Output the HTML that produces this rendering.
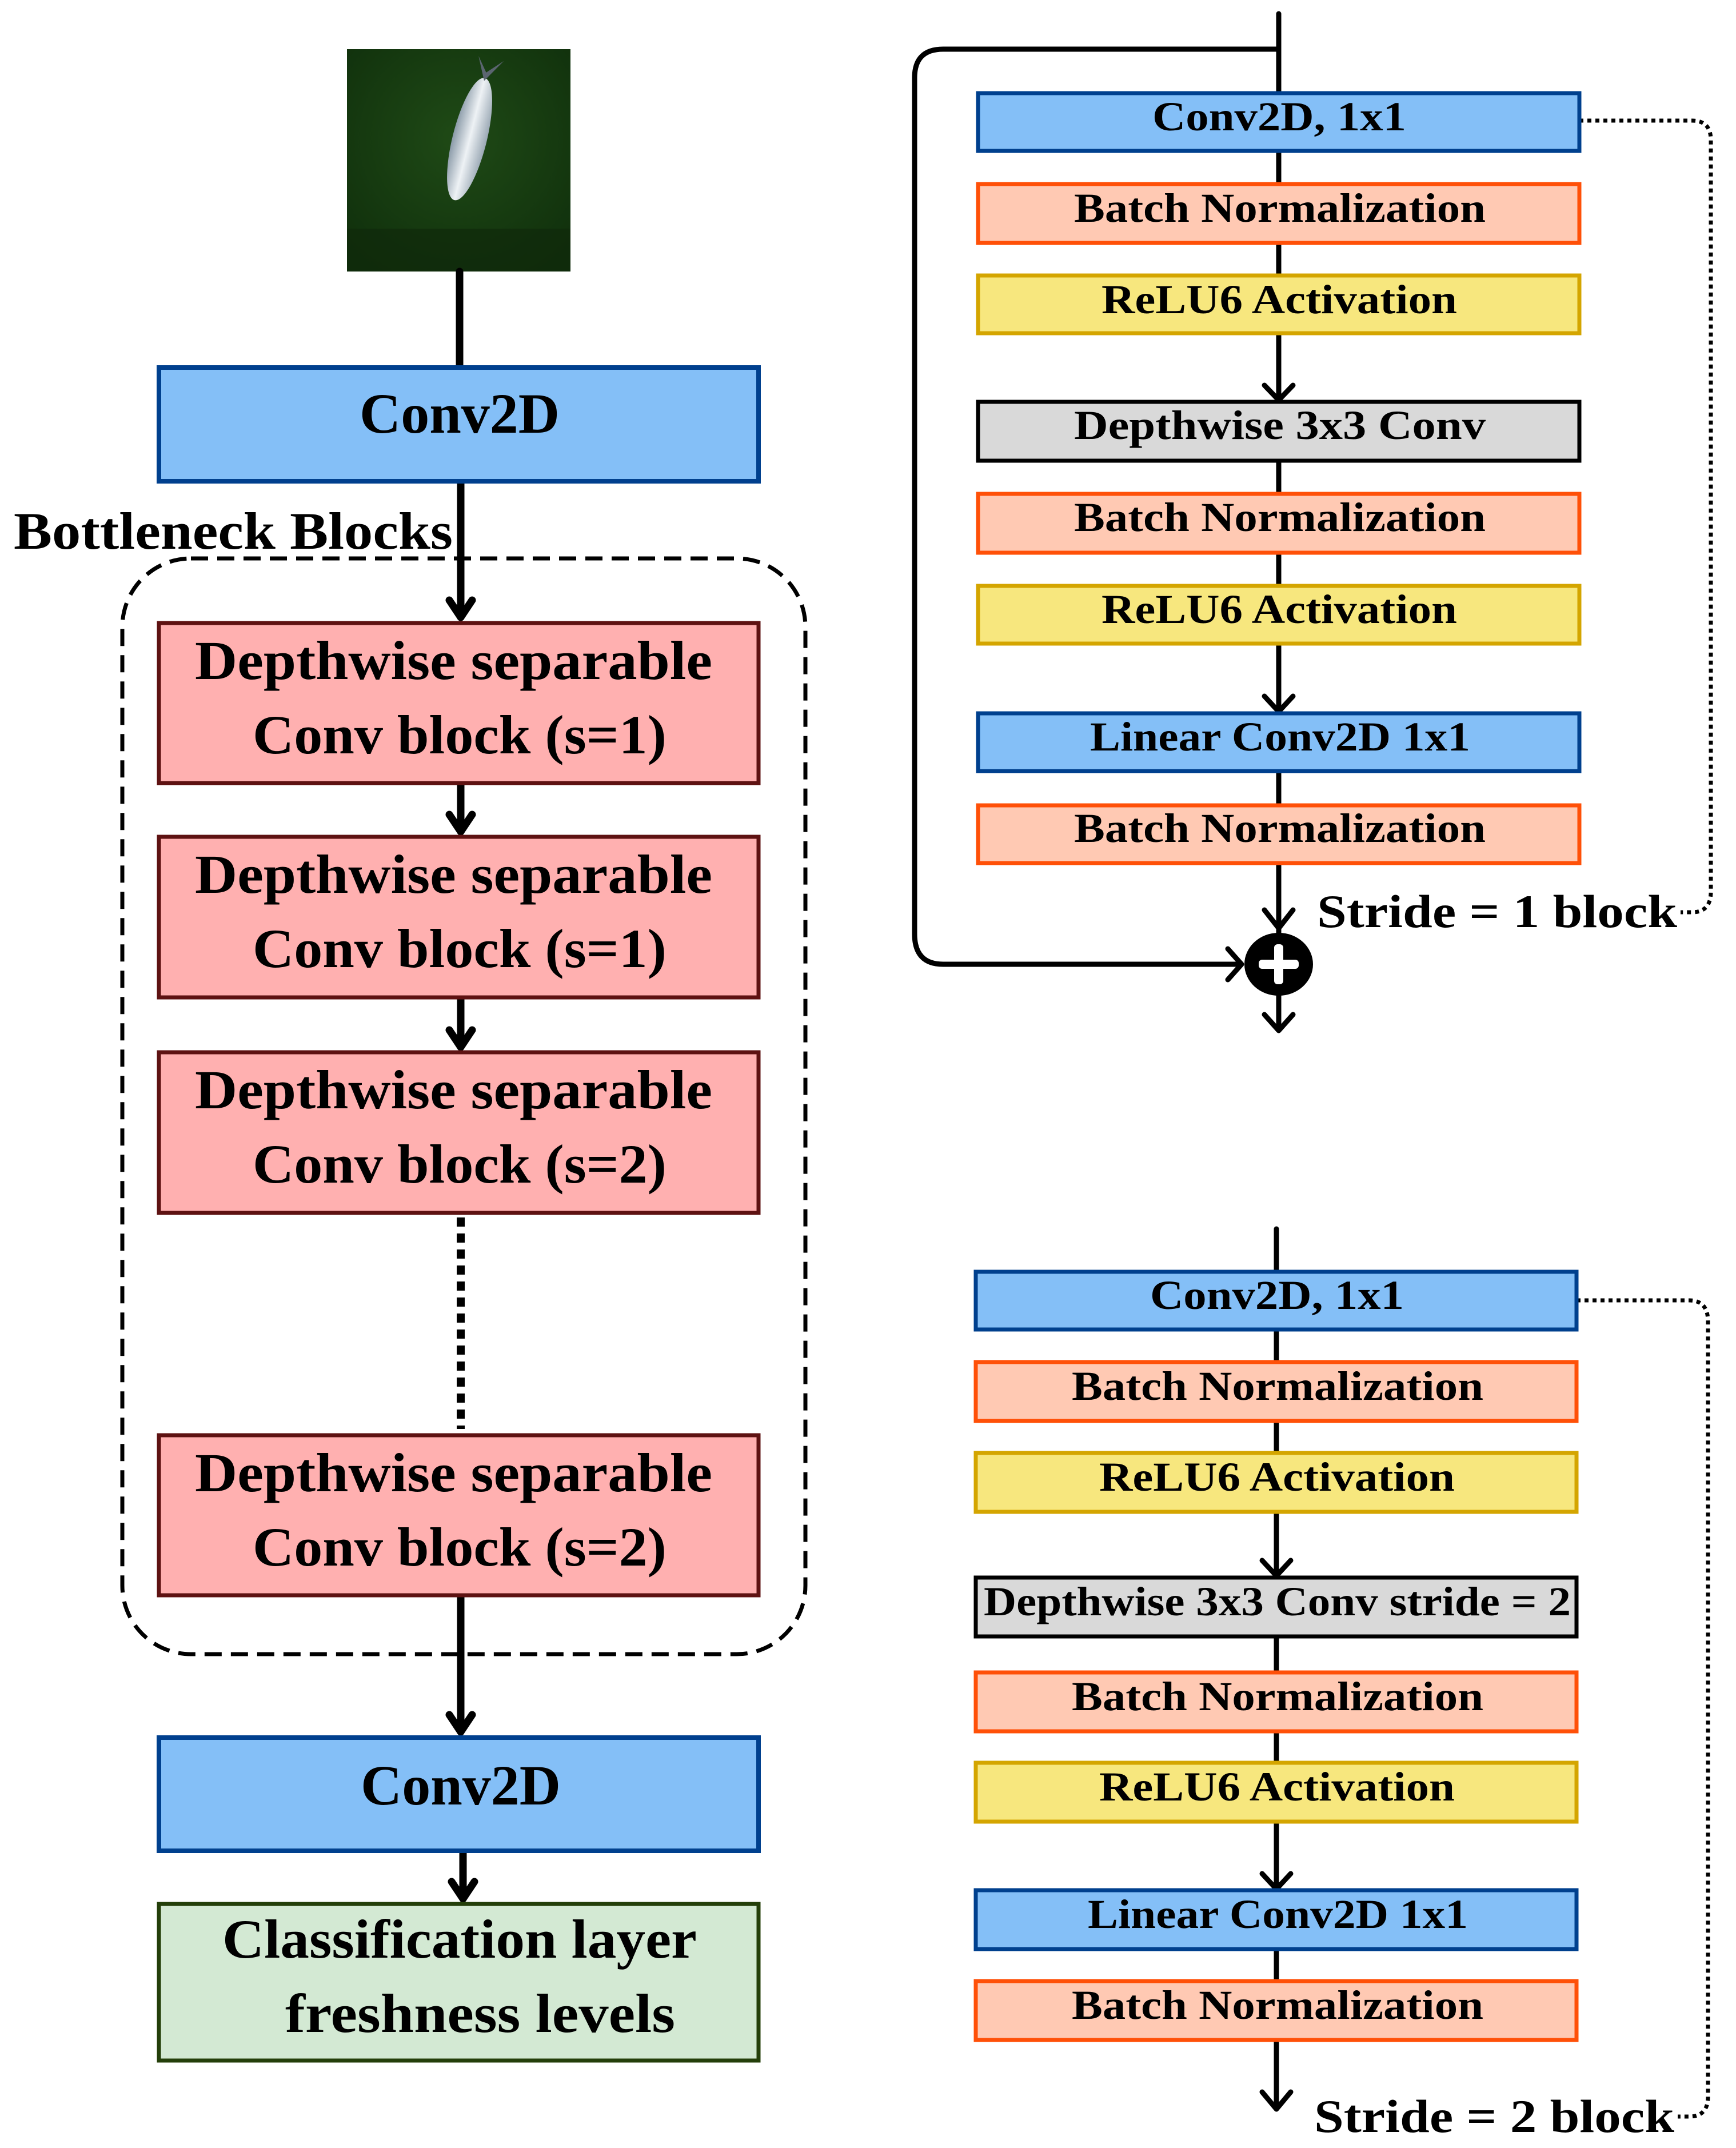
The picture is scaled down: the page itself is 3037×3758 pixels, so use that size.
<!DOCTYPE html>
<html><head><meta charset="utf-8"><style>
html,body{margin:0;padding:0;background:#fff;}
svg{display:block;}
text{font-family:"Liberation Serif",serif;font-weight:bold;fill:#000;}
</style></head><body>
<svg width="3037" height="3758" viewBox="0 0 3037 3758" xmlns="http://www.w3.org/2000/svg">
<defs>
<radialGradient id="g1" cx="50%" cy="40%" r="70%"><stop offset="0" stop-color="#1f4a16"/><stop offset="1" stop-color="#10300c"/></radialGradient>
<linearGradient id="fishg" x1="0" y1="0" x2="1" y2="0"><stop offset="0" stop-color="#8a9aa8"/><stop offset="0.5" stop-color="#eef2f5"/><stop offset="1" stop-color="#9aa8b4"/></linearGradient>
</defs>
<!-- fish image -->
<rect x="607" y="86" width="391" height="389" fill="url(#g1)"/>
<rect x="607" y="400" width="391" height="75" fill="#0f2a0b" opacity="0.7"/>
<g transform="rotate(14 830 230)">
<ellipse cx="825" cy="245" rx="30" ry="110" fill="url(#fishg)"/>
<polygon points="825,140 805,100 825,125 850,98" fill="#5b6570"/>
</g>
<!-- left connectors -->
<g stroke="#000" stroke-width="13" fill="none" stroke-linecap="round" stroke-linejoin="round">
<line x1="804" y1="475" x2="804" y2="643"/>
<line x1="806" y1="842" x2="806" y2="1080"/>
<polyline points="786,1050 806,1080 826,1050"/>
<line x1="806" y1="1370" x2="806" y2="1455"/>
<polyline points="786,1425 806,1455 826,1425"/>
<line x1="806" y1="1745" x2="806" y2="1832"/>
<polyline points="786,1802 806,1832 826,1802"/>
<line x1="806" y1="2791" x2="806" y2="3030"/>
<polyline points="786,3000 806,3030 826,3000"/>
<line x1="810" y1="3238" x2="810" y2="3322"/>
<polyline points="790,3292 810,3322 830,3292"/>
</g>
<line x1="806" y1="2130" x2="806" y2="2500" stroke="#000" stroke-width="14" stroke-dasharray="16,12"/>
<!-- dashed container -->
<rect x="214" y="977" width="1195" height="1917" rx="120" ry="120" fill="none" stroke="#000" stroke-width="7" stroke-dasharray="30,16"/>
<text x="24" y="960" font-size="92" textLength="768" lengthAdjust="spacingAndGlyphs">Bottleneck Blocks</text>
<!-- left boxes -->
<rect x="278" y="643" width="1049" height="199" fill="#84BFF7" stroke="#00408E" stroke-width="8"/>
<text x="804" y="757" font-size="100" text-anchor="middle" textLength="350" lengthAdjust="spacingAndGlyphs">Conv2D</text>
<g fill="#FFB0B0" stroke="#5E1212" stroke-width="7">
<rect x="278" y="1090" width="1049" height="280"/>
<rect x="278" y="1464" width="1049" height="281"/>
<rect x="278" y="1841" width="1049" height="281"/>
<rect x="278" y="2511" width="1049" height="280"/>
</g>
<g font-size="96">
<text x="341" y="1188" textLength="905" lengthAdjust="spacingAndGlyphs">Depthwise separable</text>
<text x="442" y="1318" textLength="724" lengthAdjust="spacingAndGlyphs">Conv block (s=1)</text>
<text x="341" y="1562" textLength="905" lengthAdjust="spacingAndGlyphs">Depthwise separable</text>
<text x="442" y="1692" textLength="724" lengthAdjust="spacingAndGlyphs">Conv block (s=1)</text>
<text x="341" y="1939" textLength="905" lengthAdjust="spacingAndGlyphs">Depthwise separable</text>
<text x="442" y="2069" textLength="724" lengthAdjust="spacingAndGlyphs">Conv block (s=2)</text>
<text x="341" y="2609" textLength="905" lengthAdjust="spacingAndGlyphs">Depthwise separable</text>
<text x="442" y="2739" textLength="724" lengthAdjust="spacingAndGlyphs">Conv block (s=2)</text>
</g>
<rect x="278" y="3040" width="1049" height="198" fill="#84BFF7" stroke="#00408E" stroke-width="8"/>
<text x="806" y="3157" font-size="100" text-anchor="middle" textLength="350" lengthAdjust="spacingAndGlyphs">Conv2D</text>
<rect x="278" y="3331" width="1049" height="274" fill="#D3E9D3" stroke="#243F0A" stroke-width="7"/>
<text x="389" y="3425" font-size="96" textLength="830" lengthAdjust="spacingAndGlyphs">Classification layer</text>
<text x="499" y="3555" font-size="96" textLength="682" lengthAdjust="spacingAndGlyphs">freshness levels</text>

<!-- RIGHT TOP -->
<g stroke="#000" stroke-width="9" fill="none" stroke-linecap="round" stroke-linejoin="round">
<line x1="2237" y1="24" x2="2237" y2="1640"/>
<path d="M2237 86 L1650 86 Q1600 86 1600 136 L1600 1634 Q1600 1687 1650 1687 L2170 1687"/>
<polyline points="2148,1660 2172,1687 2148,1714"/>
<polyline points="2212,1040 2237,1068 2262,1040"/>
<polyline points="2212,674 2237,700 2262,674"/>
<polyline points="2212,1218 2237,1245 2262,1218"/>
<polyline points="2212,1592 2237,1624 2262,1592"/>
<line x1="2237" y1="1740" x2="2237" y2="1800"/>
<polyline points="2212,1775 2237,1803 2262,1775"/>
</g>
<ellipse cx="2237" cy="1687" rx="60" ry="55" fill="#000"/>
<rect x="2229" y="1652" width="16" height="70" rx="6" fill="#fff"/>
<rect x="2202" y="1679" width="70" height="16" rx="6" fill="#fff"/>
<path d="M2763 211 L2960 211 Q2993 211 2993 245 L2993 1560 Q2993 1596 2960 1596 L2940 1596" fill="none" stroke="#000" stroke-width="7" stroke-dasharray="7,7"/>
<g stroke-width="7">
<rect x="1711" y="163" width="1052" height="101" fill="#84BFF7" stroke="#00408E"/>
<rect x="1711" y="322" width="1052" height="103" fill="#FFC9B3" stroke="#FF5008"/>
<rect x="1711" y="482" width="1052" height="101" fill="#F7E77E" stroke="#D4A500"/>
<rect x="1711" y="703" width="1052" height="103" fill="#D9D9D9" stroke="#000"/>
<rect x="1711" y="864" width="1052" height="103" fill="#FFC9B3" stroke="#FF5008"/>
<rect x="1711" y="1025" width="1052" height="101" fill="#F7E77E" stroke="#D4A500"/>
<rect x="1711" y="1248" width="1052" height="101" fill="#84BFF7" stroke="#00408E"/>
<rect x="1711" y="1409" width="1052" height="101" fill="#FFC9B3" stroke="#FF5008"/>
</g>
<g font-size="72">
<text x="2016" y="228" textLength="444" lengthAdjust="spacingAndGlyphs">Conv2D, 1x1</text>
<text x="1879" y="388" textLength="720" lengthAdjust="spacingAndGlyphs">Batch Normalization</text>
<text x="1927" y="548" textLength="622" lengthAdjust="spacingAndGlyphs">ReLU6 Activation</text>
<text x="1879" y="768" textLength="720" lengthAdjust="spacingAndGlyphs">Depthwise 3x3 Conv</text>
<text x="1879" y="929" textLength="720" lengthAdjust="spacingAndGlyphs">Batch Normalization</text>
<text x="1927" y="1090" textLength="622" lengthAdjust="spacingAndGlyphs">ReLU6 Activation</text>
<text x="1907" y="1313" textLength="665" lengthAdjust="spacingAndGlyphs">Linear Conv2D 1x1</text>
<text x="1879" y="1473" textLength="720" lengthAdjust="spacingAndGlyphs">Batch Normalization</text>
</g>
<text x="2304" y="1622" font-size="82" textLength="630" lengthAdjust="spacingAndGlyphs">Stride = 1 block</text>

<!-- RIGHT BOTTOM -->
<g stroke="#000" stroke-width="9" fill="none" stroke-linecap="round" stroke-linejoin="round">
<line x1="2233" y1="2150" x2="2233" y2="3686"/>
<polyline points="2208,2730 2233,2757 2258,2730"/>
<polyline points="2208,3278 2233,3305 2258,3278"/>
<polyline points="2208,3660 2233,3690 2258,3660"/>
</g>
<path d="M2758 2275 L2955 2275 Q2988 2275 2988 2312 L2988 3668 Q2988 3703 2955 3703 L2935 3703" fill="none" stroke="#000" stroke-width="7" stroke-dasharray="7,7"/>
<g stroke-width="7">
<rect x="1707" y="2225" width="1051" height="101" fill="#84BFF7" stroke="#00408E"/>
<rect x="1707" y="2383" width="1051" height="103" fill="#FFC9B3" stroke="#FF5008"/>
<rect x="1707" y="2542" width="1051" height="103" fill="#F7E77E" stroke="#D4A500"/>
<rect x="1707" y="2760" width="1051" height="103" fill="#D9D9D9" stroke="#000"/>
<rect x="1707" y="2926" width="1051" height="103" fill="#FFC9B3" stroke="#FF5008"/>
<rect x="1707" y="3084" width="1051" height="103" fill="#F7E77E" stroke="#D4A500"/>
<rect x="1707" y="3307" width="1051" height="103" fill="#84BFF7" stroke="#00408E"/>
<rect x="1707" y="3466" width="1051" height="103" fill="#FFC9B3" stroke="#FF5008"/>
</g>
<g font-size="72">
<text x="2012" y="2290" textLength="444" lengthAdjust="spacingAndGlyphs">Conv2D, 1x1</text>
<text x="1875" y="2449" textLength="720" lengthAdjust="spacingAndGlyphs">Batch Normalization</text>
<text x="1923" y="2608" textLength="622" lengthAdjust="spacingAndGlyphs">ReLU6 Activation</text>
<text x="1721" y="2826" textLength="1027" lengthAdjust="spacingAndGlyphs">Depthwise 3x3 Conv stride = 2</text>
<text x="1875" y="2992" textLength="720" lengthAdjust="spacingAndGlyphs">Batch Normalization</text>
<text x="1923" y="3150" textLength="622" lengthAdjust="spacingAndGlyphs">ReLU6 Activation</text>
<text x="1903" y="3373" textLength="665" lengthAdjust="spacingAndGlyphs">Linear Conv2D 1x1</text>
<text x="1875" y="3532" textLength="720" lengthAdjust="spacingAndGlyphs">Batch Normalization</text>
</g>
<text x="2299" y="3730" font-size="82" textLength="630" lengthAdjust="spacingAndGlyphs">Stride = 2 block</text>
</svg>
</body></html>
